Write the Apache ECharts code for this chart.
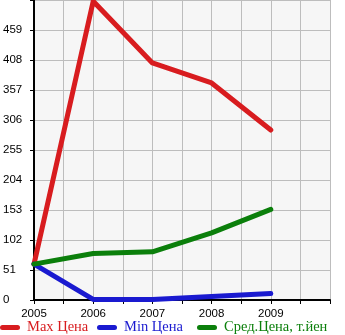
<!DOCTYPE html>
<html><head><meta charset="utf-8">
<script src="https://cdn.jsdelivr.net/npm/echarts@6/dist/echarts.min.js"></script>
<style>html,body{margin:0;padding:0;background:#fff}#c{width:345px;height:335px}</style>
</head><body><div id="c"></div>
<script>
const years = [2005, 2006, 2007, 2008, 2009];
const maxPrice = [61, 508, 403, 369, 289];
const minPrice = [61, 1, 1, 6, 11];
const avgPrice = [61, 79, 82, 114, 154];
const seriesNames = ['Max Цена', 'Min Цена', 'Сред.Цена, т.йен'];
const colors = ['#d81c1f', '#1a1ad0', '#0b7f0b'];

const pair = arr => years.map((y, i) => [y, arr[i]]);
const capsule = 'path://M3,0 L21,0 A3,3 0 0 1 21,6 L3,6 A3,3 0 0 1 3,0 Z';
const legendLefts = [0, 97, 197];

const chart = echarts.init(document.getElementById('c'), null, {renderer: 'canvas'});
chart.setOption({
  animation: false,
  grid: {left: 31, right: 15, top: 0, bottom: 35, show: true, backgroundColor: '#f6f6f6', borderWidth: 0},
  legend: seriesNames.map((n, i) => ({
    data: [n], left: legendLefts[i], bottom: 0, icon: capsule,
    itemWidth: 24, itemHeight: 5, itemGap: 0, padding: 0,
    textStyle: {fontFamily: 'Liberation Serif', fontSize: 14.5, color: colors[i]}
  })),
  xAxis: {
    type: 'value', min: 2005, max: 2010, interval: 0.5,
    axisLine: {lineStyle: {color: '#000', width: 2}},
    axisTick: {show: true, length: 4, lineStyle: {color: '#000', width: 1}},
    axisLabel: {
      fontFamily: 'Liberation Sans', fontSize: 11.5, color: '#000', margin: 8,
      showMaxLabel: true,
      formatter: v => (Math.abs(v - Math.round(v)) < 1e-6 && v < 2010) ? String(Math.round(v)) : ''
    },
    splitLine: {show: true, lineStyle: {color: '#bdbdbd', width: 1}}
  },
  yAxis: {
    type: 'value', min: 0, max: 510, interval: 51,
    axisLine: {show: true, lineStyle: {color: '#000', width: 2}},
    axisTick: {show: true, length: 4, lineStyle: {color: '#000', width: 1}},
    axisLabel: {
      fontFamily: 'Liberation Sans', fontSize: 11.5, color: '#000', align: 'left', margin: 31,
      padding: [0, 0, 9, 0],
      formatter: v => v >= 510 ? '' : String(v)
    },
    splitLine: {show: true, lineStyle: {color: '#bdbdbd', width: 1}}
  },
  series: [maxPrice, minPrice, avgPrice].map((d, i) => ({
    name: seriesNames[i], type: 'line', data: pair(d), showSymbol: false, symbol: 'none',
    color: colors[i],
    lineStyle: {width: 5, color: colors[i], cap: 'round', join: 'round'}
  }))
});
</script></body></html>
